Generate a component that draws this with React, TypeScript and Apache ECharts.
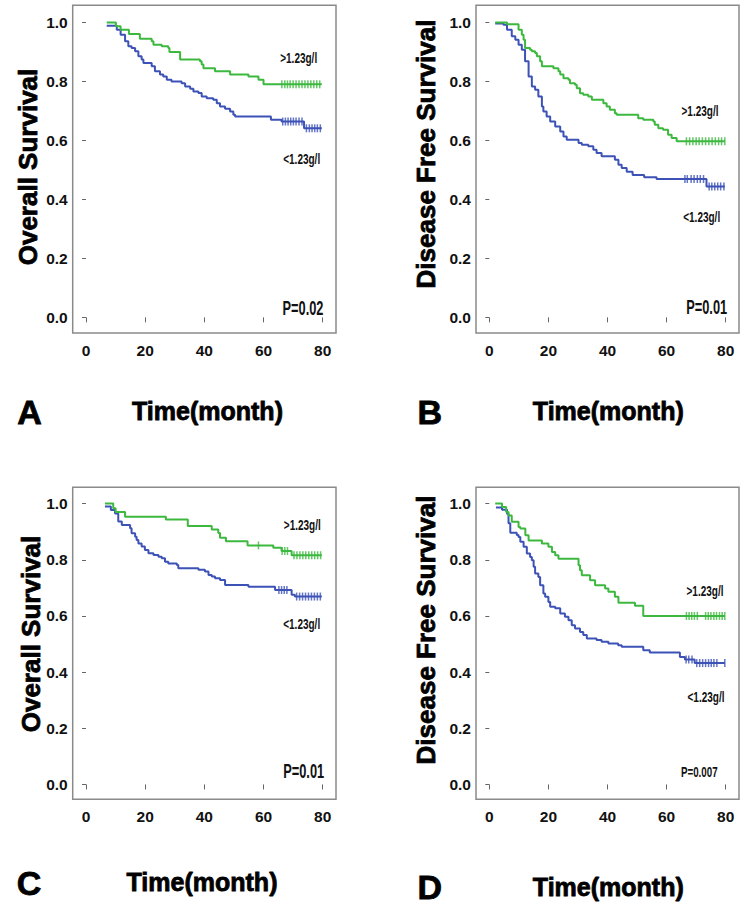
import React, { useEffect, useRef } from "react";
import * as echarts from "echarts";

const GREEN = "#3cb83f";
const BLUE = "#3d52b6";
const SANS = '"Liberation Sans", Arial, Helvetica, sans-serif';

const xTicks = [0, 20, 40, 60, 80];
const yTicks = [0, 0.2, 0.4, 0.6, 0.8, 1.0];

// Panel A: Overall Survival
const aHighT = [7.0, 10.1, 11.7, 14.5, 18.2, 22.2, 22.8, 25.6, 27.8, 28.2, 31.8, 38.5, 39.1, 39.7, 43.6, 48.7, 54.9, 58.3, 60.0, 79.7];
const aHighS = [1.0, 0.987, 0.975, 0.961, 0.945, 0.936, 0.924, 0.919, 0.913, 0.9, 0.874, 0.868, 0.857, 0.845, 0.834, 0.823, 0.817, 0.806, 0.79, 0.79];
const aLowT = [7.0, 10.4, 11.7, 13.2, 14.3, 15.4, 16.6, 17.7, 18.8, 19.4, 22.2, 23.3, 25.0, 26.1, 27.3, 28.9, 32.3, 33.5, 35.2, 36.3, 38.0, 39.1, 40.8, 43.0, 44.2, 45.3, 47.0, 48.7, 49.8, 50.4, 62.5, 66.1, 73.7, 79.7];
const aLowS = [0.989, 0.975, 0.958, 0.936, 0.919, 0.913, 0.902, 0.885, 0.874, 0.862, 0.851, 0.834, 0.823, 0.817, 0.806, 0.8, 0.794, 0.783, 0.775, 0.766, 0.761, 0.749, 0.743, 0.738, 0.726, 0.715, 0.707, 0.698, 0.687, 0.681, 0.67, 0.664, 0.641, 0.641];
const aHighCens = [66.2, 67.2, 68.1, 69.0, 70.0, 71.0, 72.0, 73.0, 74.0, 75.0, 76.0, 77.0, 78.0, 79.0];
const aLowCens = [66.5, 67.4, 68.3, 69.2, 70.1, 71.0, 72.0, 73.0, 74.5, 75.5, 76.4, 77.3, 78.2, 79.2];

// Panel B: Disease Free Survival
const bHighT = [2.0, 6.0, 9.9, 11.0, 11.6, 12.1, 13.8, 14.4, 15.5, 16.1, 17.2, 17.8, 21.7, 23.4, 24.0, 25.1, 26.8, 27.3, 29.0, 29.6, 30.7, 31.8, 33.5, 34.7, 38.6, 39.7, 40.8, 42.5, 43.1, 50.4, 52.1, 55.5, 56.0, 57.2, 58.8, 60.5, 61.7, 63.4, 79.7];
const bHighS = [1.0, 0.994, 0.975, 0.958, 0.941, 0.913, 0.907, 0.902, 0.896, 0.885, 0.868, 0.851, 0.845, 0.834, 0.823, 0.811, 0.806, 0.794, 0.789, 0.777, 0.76, 0.755, 0.749, 0.738, 0.726, 0.715, 0.704, 0.692, 0.687, 0.675, 0.67, 0.664, 0.653, 0.641, 0.636, 0.619, 0.608, 0.597, 0.597];
const bLowT = [2.0, 4.8, 6.0, 7.6, 8.8, 9.9, 11.0, 12.1, 13.3, 14.4, 15.5, 16.6, 17.8, 18.3, 19.4, 20.6, 22.3, 24.0, 25.1, 26.2, 30.2, 31.3, 33.5, 35.2, 36.3, 38.0, 42.5, 43.7, 44.8, 46.5, 48.5, 52.4, 56.6, 73.5, 79.7];
const bLowS = [0.996, 0.992, 0.975, 0.953, 0.941, 0.924, 0.907, 0.868, 0.817, 0.783, 0.772, 0.749, 0.715, 0.698, 0.681, 0.664, 0.647, 0.63, 0.613, 0.602, 0.591, 0.585, 0.58, 0.568, 0.557, 0.546, 0.534, 0.517, 0.506, 0.494, 0.483, 0.475, 0.469, 0.444, 0.444];
const bHighCens = [66.7, 67.8, 68.9, 70.0, 71.0, 72.1, 73.2, 74.3, 75.4, 76.5, 77.6, 78.6, 79.7];
const bLowCens = [66.2, 67.0, 68.3, 69.3, 70.4, 71.4, 72.5, 74.4, 75.3, 76.3, 77.3, 78.3, 79.4];

// Panel C: Overall Survival
const cHighT = [6.4, 9.2, 10.0, 13.2, 27.0, 34.4, 42.5, 44.7, 45.3, 47.3, 54.6, 63.3, 66.1, 69.5, 79.7];
const cHighS = [1.0, 0.983, 0.97, 0.953, 0.943, 0.92, 0.908, 0.895, 0.878, 0.866, 0.851, 0.843, 0.831, 0.816, 0.816];
const cLowT = [6.4, 8.4, 9.8, 10.9, 12.1, 14.9, 15.4, 16.6, 17.1, 17.7, 18.8, 19.9, 21.1, 22.8, 24.5, 25.6, 26.7, 27.8, 30.7, 31.2, 38.0, 40.2, 41.4, 42.5, 43.6, 45.3, 47.0, 54.9, 63.9, 69.5, 70.6, 79.7];
const cLowS = [0.99, 0.977, 0.965, 0.936, 0.924, 0.912, 0.894, 0.882, 0.87, 0.858, 0.847, 0.835, 0.823, 0.817, 0.811, 0.805, 0.793, 0.787, 0.781, 0.77, 0.764, 0.758, 0.746, 0.74, 0.734, 0.728, 0.71, 0.704, 0.692, 0.675, 0.669, 0.669];
const cHighCens = [58.3, 66.3, 67.2, 68.1, 70.3, 71.3, 72.3, 73.3, 74.3, 75.3, 76.3, 77.3, 78.3, 79.3];
const cLowCens = [65.2, 66.1, 67.0, 67.9, 71.2, 72.2, 73.2, 74.2, 75.2, 76.2, 77.2, 78.2, 79.2];

// Panel D: Disease Free Survival
const dHighT = [2.0, 4.3, 5.7, 6.5, 7.6, 9.9, 10.5, 12.2, 13.3, 17.8, 20.0, 21.2, 22.3, 23.4, 30.2, 30.7, 31.3, 34.1, 35.8, 39.2, 40.3, 42.5, 43.7, 49.3, 52.1, 79.7];
const dHighS = [1.0, 0.988, 0.97, 0.958, 0.935, 0.917, 0.911, 0.887, 0.869, 0.858, 0.846, 0.828, 0.816, 0.804, 0.78, 0.763, 0.745, 0.727, 0.709, 0.698, 0.686, 0.668, 0.647, 0.636, 0.6, 0.6];
const dLowT = [2.25, 4.3, 6.0, 6.5, 7.1, 9.3, 9.9, 10.5, 11.6, 12.7, 13.8, 14.4, 15.0, 15.5, 16.6, 17.2, 18.3, 18.9, 20.0, 20.6, 22.3, 24.0, 25.6, 26.8, 27.9, 29.0, 30.7, 31.8, 33.0, 36.3, 38.0, 40.3, 43.6, 44.8, 52.1, 54.3, 64.5, 66.2, 69.5, 79.7];
const dLowS = [0.986, 0.978, 0.964, 0.93, 0.896, 0.888, 0.881, 0.864, 0.846, 0.822, 0.81, 0.798, 0.775, 0.751, 0.739, 0.709, 0.68, 0.668, 0.65, 0.633, 0.627, 0.609, 0.597, 0.585, 0.567, 0.555, 0.543, 0.532, 0.52, 0.514, 0.508, 0.502, 0.496, 0.49, 0.478, 0.47, 0.454, 0.445, 0.432, 0.432];
const dHighCens = [66.7, 67.6, 68.5, 69.4, 70.4, 73.2, 74.1, 75.0, 76.0, 76.9, 77.9, 78.8, 79.7];
const dLowCens = [66.6, 67.5, 68.6, 70.2, 71.2, 72.2, 73.2, 74.2, 75.1, 76.0, 77.0, 79.7];

const yTitles = ["Overall Survival", "Disease Free Survival", "Overall Survival", "Disease Free Survival"];
const panelLetters = ["A", "B", "C", "D"];
const pValues = ["P=0.02", "P=0.01", "P=0.01", "P=0.007"];
const highLabel = ">1.23g/l";
const lowLabel = "<1.23g/l";
const xTitle = "Time(month)";

const panels = [
  { hT: aHighT, hS: aHighS, lT: aLowT, lS: aLowS, hC: aHighCens, lC: aLowCens },
  { hT: bHighT, hS: bHighS, lT: bLowT, lS: bLowS, hC: bHighCens, lC: bLowCens },
  { hT: cHighT, hS: cHighS, lT: cLowT, lS: cLowS, hC: cHighCens, lC: cLowCens },
  { hT: dHighT, hS: dHighS, lT: dLowT, lS: dLowS, hC: dHighCens, lC: dLowCens },
];

// layout (pixels)
const grids = [
  { left: 72.7, top: 5.3, width: 263.3, height: 327.7 },
  { left: 476, top: 5.3, width: 263, height: 327.7 },
  { left: 72.7, top: 487.3, width: 263.3, height: 312 },
  { left: 476, top: 487.3, width: 263, height: 312 },
];
const titlePos = [[28.3, 167], [426, 154], [31, 634], [426, 630]];
const letterPos = [[29.5, 412], [429.7, 412], [29, 883], [429.7, 886.5]];
const xTitlePos = [[207.5, 411], [608.3, 411], [202, 882], [608.3, 886.5]];
const highPos = [[298.7, 58.3], [700, 111], [302.3, 525.7], [705, 591.7]];
const lowPos = [[301.7, 159.5], [701.7, 217], [301.7, 624.7], [706, 697]];
const pPos = [[303, 308], [706.7, 307], [303.7, 771.3], [699.3, 772]];
const pSize = [16, 16, 16, 12.2];

function stepAt(ts: number[], ss: number[], t: number) {
  let v = ss[0];
  for (let i = 0; i < ts.length; i++) if (ts[i] <= t) v = ss[i];
  return v;
}

function narrowText(text: string, x: number, y: number, size: number, sy: number) {
  return {
    type: "text",
    x,
    y,
    scaleX: 0.8,
    scaleY: sy,
    style: {
      text,
      fill: "#111",
      fontFamily: SANS,
      fontWeight: "bold",
      fontSize: size,
      align: "center",
      verticalAlign: "middle",
    },
  };
}

function boldText(text: string, x: number, y: number, size: number, rotation = 0) {
  return {
    type: "text",
    x,
    y,
    rotation,
    style: {
      text,
      fill: "#000",
      stroke: "#000",
      lineWidth: 0.8,
      fontFamily: SANS,
      fontWeight: "bold",
      fontSize: size,
      align: "center",
      verticalAlign: "middle",
    },
  };
}

export default function App() {
  const ref = useRef<HTMLDivElement>(null);
  useEffect(() => {
    const chart = echarts.init(ref.current as HTMLDivElement, null, { renderer: "svg" });
    const xAxis = grids.map((_, i) => ({
      type: "value",
      gridIndex: i,
      min: -4.5,
      max: 84.5,
      axisLine: { show: false },
      splitLine: { show: false },
      axisTick: { show: true, length: 5, customValues: xTicks, lineStyle: { color: "#666", width: 1 } },
      axisLabel: {
        customValues: xTicks,
        margin: 9,
        fontFamily: SANS,
        fontWeight: "bold",
        fontSize: 15.5,
        color: "#111",
        formatter: (v: number) => String(Math.round(v)),
      },
    }));
    const yAxis = grids.map((_, i) => ({
      type: "value",
      gridIndex: i,
      min: -0.053,
      max: 1.058,
      axisLine: { show: false },
      splitLine: { show: false },
      axisTick: { show: true, length: 4, customValues: yTicks, lineStyle: { color: "#666", width: 1 } },
      axisLabel: {
        customValues: yTicks,
        margin: 5,
        fontFamily: SANS,
        fontWeight: "bold",
        fontSize: 15.5,
        color: "#111",
        formatter: (v: number) => v.toFixed(1),
      },
    }));
    const series: any[] = [];
    panels.forEach((p, i) => {
      series.push({
        type: "line",
        xAxisIndex: i,
        yAxisIndex: i,
        step: "end",
        symbol: "none",
        data: p.lT.map((t, k) => [t, p.lS[k]]),
        lineStyle: { color: BLUE, width: 2 },
        itemStyle: { color: BLUE },
        z: 2,
      });
      series.push({
        type: "line",
        xAxisIndex: i,
        yAxisIndex: i,
        step: "end",
        symbol: "none",
        data: p.hT.map((t, k) => [t, p.hS[k]]),
        lineStyle: { color: GREEN, width: 2 },
        itemStyle: { color: GREEN },
        z: 3,
      });
      series.push({
        type: "scatter",
        xAxisIndex: i,
        yAxisIndex: i,
        symbol: "rect",
        symbolSize: [1.5, 8],
        data: p.lC.map((t) => [t, stepAt(p.lT, p.lS, t)]),
        itemStyle: { color: BLUE },
        z: 2,
      });
      series.push({
        type: "scatter",
        xAxisIndex: i,
        yAxisIndex: i,
        symbol: "rect",
        symbolSize: [1.5, 8],
        data: p.hC.map((t) => [t, stepAt(p.hT, p.hS, t)]),
        itemStyle: { color: GREEN },
        z: 3,
      });
    });

    const graphic: any[] = [];
    for (let i = 0; i < 4; i++) {
      graphic.push(boldText(yTitles[i], titlePos[i][0], titlePos[i][1], 26, Math.PI / 2));
      graphic.push(boldText(panelLetters[i], letterPos[i][0], letterPos[i][1], 34));
      graphic.push(boldText(xTitle, xTitlePos[i][0], xTitlePos[i][1], 25));
      graphic.push(narrowText(highLabel, highPos[i][0], highPos[i][1], 12.5, 1.15));
      graphic.push(narrowText(lowLabel, lowPos[i][0], lowPos[i][1], 12.5, 1.15));
      graphic.push(narrowText(pValues[i], pPos[i][0], pPos[i][1], pSize[i], 1.22));
    }

    chart.setOption({
      animation: false,
      backgroundColor: "#fff",
      grid: grids.map((g) => ({ ...g, show: true, borderColor: "#8a8a8a", borderWidth: 1.5, containLabel: false })),
      xAxis,
      yAxis,
      series,
      graphic,
    });
    return () => chart.dispose();
  }, []);
  return <div ref={ref} style={{ position: "absolute", left: 0, top: 0, width: 750, height: 906 }} />;
}
